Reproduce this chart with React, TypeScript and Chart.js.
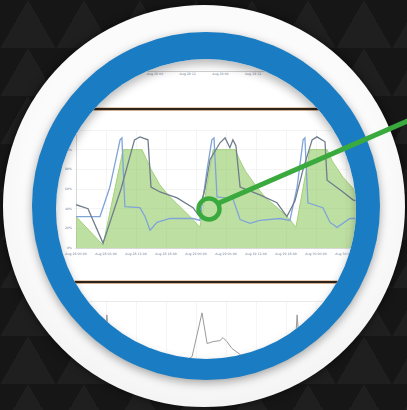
import React, { useEffect, useRef } from "react";
import { Chart, registerables } from "chart.js";

Chart.register(...registerables);

// ---- data ----
const xTickLabels = [
  "Aug 28 00:00", "Aug 28 06:00", "Aug 28 12:00", "Aug 28 18:00", "Aug 29 00:00",
  "Aug 29 06:00", "Aug 29 12:00", "Aug 29 18:00", "Aug 30 00:00", "Aug 30 06:00",
];
const yTickLabels = ["0%", "20%", "40%", "60%", "80%", "100%", ""];
const topTickLabels = ["Aug 28 00", "Aug 28 12", "Aug 29 00", "Aug 29 12"];

const greenX = [0, 0.9, 1.57, 2.2, 2.35, 2.5, 2.8, 3.1, 3.4, 3.9, 4.13, 4.57, 5.3, 5.45, 5.65, 6.0, 6.35, 6.75, 7.13, 7.33, 7.8, 8.37, 8.55, 8.9, 9.37, 10];
const greenV = [32, 3, 100, 100, 90, 80, 64, 53, 44, 29, 21, 100, 100, 90, 78, 63, 50, 40, 29, 21, 100, 100, 88, 72, 56, 38];

const darkX = [0, 0.4, 0.9, 1.5, 1.95, 2.13, 2.4, 2.5, 2.8, 3.37, 3.9, 4.07, 4.3, 4.47, 4.8, 4.97, 5.13, 5.23, 5.33, 5.47, 6.13, 6.7, 7.03, 7.3, 7.57, 7.87, 8.03, 8.3, 8.37, 8.9, 9.23, 10];
const darkV = [44, 40, 5, 60, 110, 113, 110, 62, 57, 51, 41, 34, 60, 90, 107, 112, 102, 110, 104, 62, 54, 46, 32, 48, 80, 110, 113, 108, 69, 57, 49, 42];

const blueX = [0, 0.8, 1.13, 1.47, 1.53, 1.63, 2.13, 2.3, 2.47, 2.7, 3.13, 3.9, 4.13, 4.37, 4.53, 4.6, 4.7, 5.23, 5.47, 5.8, 6.13, 6.8, 7.13, 7.37, 7.57, 7.63, 7.73, 8.23, 8.47, 8.7, 9.13, 10];
const blueV = [32, 32, 62, 110, 112, 42, 41, 32, 18, 26, 30, 30, 28, 80, 110, 112, 52, 50, 29, 25, 28, 30, 28, 62, 110, 112, 46, 41, 26, 21, 30, 30];

const bottomX = [0, 0.5, 0.95, 1.03, 1.1, 1.5, 2.5, 3.5, 3.87, 4.2, 4.37, 4.57, 4.8, 4.9, 5.03, 5.2, 5.47, 6, 7, 7.3, 7.37, 7.45, 8, 9, 10];
const bottomV = [30, 30, 40, 86, 50, 42, 38, 36, 44, 88, 57, 59, 60, 63, 59, 52, 46, 42, 40, 50, 86, 55, 45, 42, 40];

const pts = (xs: number[], vs: number[]) => xs.map((x, i) => ({ x, y: vs[i] }));

function MainChart() {
  const ref = useRef<HTMLCanvasElement | null>(null);
  useEffect(() => {
    if (!ref.current) return;
    const chart = new Chart(ref.current, {
      type: "line",
      data: {
        datasets: [
          {
            data: pts(darkX, darkV),
            borderColor: "#6f7d8c",
            borderWidth: 1.3,
            pointRadius: 0,
            fill: false,
          },
          {
            data: pts(blueX, blueV),
            borderColor: "#7fa4d8",
            borderWidth: 1.3,
            pointRadius: 0,
            fill: false,
          },
          {
            data: pts(greenX, greenV),
            borderColor: "#a3d07c",
            backgroundColor: "rgba(150, 204, 105, 0.62)",
            borderWidth: 1,
            pointRadius: 0,
            fill: "origin",
            tension: 0,
          },
        ],
      },
      options: {
        animation: false,
        responsive: false,
        events: [],
        layout: { padding: { top: 4, right: 20, left: 0, bottom: 0 } },
        plugins: { legend: { display: false }, tooltip: { enabled: false } },
        scales: {
          x: {
            type: "linear",
            min: 0,
            max: 10,
            afterFit: (s: any) => { s.height = 12; },
            ticks: {
              stepSize: 1,
              autoSkip: false,
              maxRotation: 0,
              font: { size: 3.2, family: "DejaVu Sans" },
              color: "#7a8aa0",
              padding: 2,
              callback: (v: any) => xTickLabels[v] ?? "",
            },
            grid: { color: "#ececec", lineWidth: 0.6, tickLength: 2 },
            border: { color: "#d8d8d8" },
          },
          y: {
            min: 0,
            max: 120,
            afterFit: (s: any) => { s.width = 20; },
            ticks: {
              stepSize: 20,
              font: { size: 3.2, family: "DejaVu Sans" },
              color: "#7a8aa0",
              padding: 2,
              callback: (v: any) => yTickLabels[Math.round(v / 20)] ?? "",
            },
            grid: { color: "#ececec", lineWidth: 0.6, tickLength: 2 },
            border: { color: "#d8d8d8" },
          },
        },
      },
    } as any);
    return () => chart.destroy();
  }, []);
  return <canvas ref={ref} width={340} height={134} style={{ position: "absolute", left: 0, top: 67, width: 340, height: 134 }} />;
}

function BottomChart() {
  const ref = useRef<HTMLCanvasElement | null>(null);
  useEffect(() => {
    if (!ref.current) return;
    const chart = new Chart(ref.current, {
      type: "line",
      data: {
        datasets: [
          {
            data: pts(bottomX, bottomV),
            borderColor: "#9a9a9a",
            borderWidth: 1,
            pointRadius: 0,
            fill: false,
          },
        ],
      },
      options: {
        animation: false,
        responsive: false,
        events: [],
        layout: { padding: { top: 5, right: 20, left: 0, bottom: 0 } },
        plugins: { legend: { display: false }, tooltip: { enabled: false } },
        scales: {
          x: {
            type: "linear",
            min: 0,
            max: 10,
            ticks: { display: false, stepSize: 1 },
            grid: { color: "#efefef", lineWidth: 0.6, drawTicks: false },
            border: { display: false },
          },
          y: {
            min: 0,
            max: 100,
            afterFit: (s: any) => { s.width = 20; },
            ticks: { display: false, stepSize: 100 },
            grid: { color: "#e4e4e4", lineWidth: 0.8, drawTicks: false },
            border: { display: false },
          },
        },
      },
    } as any);
    return () => chart.destroy();
  }, []);
  return <canvas ref={ref} width={340} height={104} style={{ position: "absolute", left: 0, top: 237, width: 340, height: 104 }} />;
}

export default function App() {
  const bg: React.CSSProperties = {
    position: "fixed",
    left: 0,
    top: 0,
    width: 407,
    height: 410,
    overflow: "hidden",
    backgroundColor: "#181818",
    backgroundImage:
      "conic-gradient(from 150deg at 50% 0%, #1f1f1f 0deg 60deg, #161616 60deg 360deg)",
    backgroundSize: "56px 48px",
    fontFamily: "DejaVu Sans, sans-serif",
  };
  return (
    <div style={bg}>
      {/* outer white disc */}
      <div
        style={{
          position: "absolute",
          left: 3,
          top: 5,
          width: 402,
          height: 402,
          borderRadius: "50%",
          background: "radial-gradient(circle at 50% 45%, #fbfbfb 60%, #e7e7e7 100%)",
          boxShadow: "0 0 8px rgba(0,0,0,0.6)",
        }}
      />
      {/* blue ring */}
      <div
        style={{
          position: "absolute",
          left: 32,
          top: 32,
          width: 348,
          height: 348,
          borderRadius: "50%",
          background: "#1a7dc3",
          boxShadow: "0 3px 10px rgba(0,0,0,0.35)",
        }}
      />
      {/* inner lens */}
      <div
        style={{
          position: "absolute",
          left: 56,
          top: 59,
          width: 300,
          height: 300,
          borderRadius: "50%",
          overflow: "hidden",
          background: "#ffffff",
        }}
      >
        {/* top partial chart axis */}
        <div style={{ position: "absolute", left: 84, top: 12, width: 127, height: 0, borderTop: "0.6px solid #cfcfcf" }} />
        {topTickLabels.map((t, i) => (
          <div
            key={t}
            style={{
              position: "absolute",
              left: 99 + i * 32.7 - 10,
              top: 13,
              width: 20,
              textAlign: "center",
              fontSize: 3.2,
              color: "#7a8aa0",
              whiteSpace: "nowrap",
            }}
          >
            {t}
          </div>
        ))}
        {/* separator bars */}
        <div style={{ position: "absolute", left: 0, top: 49, width: 300, height: 2, background: "#2e241e", boxShadow: "0 1px 0 #d5b08e, 0 -1px 0 #e8cdb2" }} />
        <div style={{ position: "absolute", left: 0, top: 222, width: 300, height: 2, background: "#2e241e", boxShadow: "0 1px 0 #d5b08e, 0 -1px 0 #e8cdb2" }} />
        <MainChart />
        <BottomChart />
        {/* inner shadow */}
        <div
          style={{
            position: "absolute",
            inset: 0,
            borderRadius: "50%",
            boxShadow: "inset 0 5px 10px rgba(0,0,0,0.28)",
            pointerEvents: "none",
          }}
        />
      </div>
      {/* pointer */}
      <svg width={407} height={410} style={{ position: "absolute", left: 0, top: 0 }}>
        <line x1={219} y1={203} x2={410} y2={120} stroke="#3aaa3e" strokeWidth={5} />
        <circle cx={209} cy={209} r={10.5} fill="none" stroke="#3aaa3e" strokeWidth={4.5} />
      </svg>
    </div>
  );
}
